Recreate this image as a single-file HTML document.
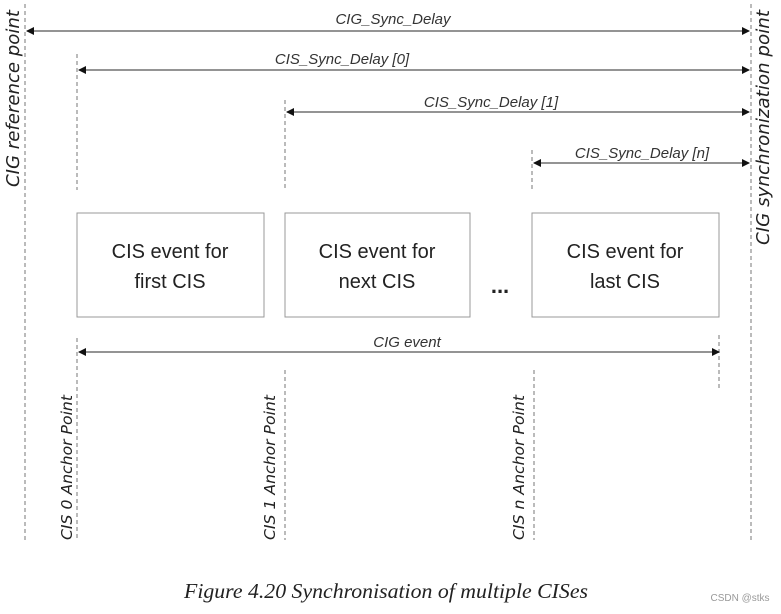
<!DOCTYPE html>
<html><head><style>
body{margin:0;background:#fff;}
</style></head><body>
<svg width="781" height="609" xmlns="http://www.w3.org/2000/svg" font-family="Liberation Sans, sans-serif">
<defs>
<marker id="a" markerWidth="8" markerHeight="8" refX="7" refY="4" orient="auto-start-reverse" markerUnits="userSpaceOnUse">
<path d="M0,0 L8,4 L0,8 z" fill="#111"/></marker>
</defs>
<g stroke="#777" stroke-width="1" stroke-dasharray="4,3" fill="none">
<line x1="25" y1="4" x2="25" y2="540"/>
<line x1="751" y1="4" x2="751" y2="540"/>
<line x1="77" y1="54" x2="77" y2="190"/>
<line x1="285" y1="100" x2="285" y2="190"/>
<line x1="532" y1="150" x2="532" y2="190"/>
<line x1="77" y1="338" x2="77" y2="540"/>
<line x1="285" y1="370" x2="285" y2="540"/>
<line x1="534" y1="370" x2="534" y2="540"/>
<line x1="719" y1="335" x2="719" y2="390"/>
</g>
<g stroke="#555" stroke-width="1.2" marker-start="url(#a)" marker-end="url(#a)">
<line x1="27" y1="31" x2="749" y2="31"/>
<line x1="79" y1="70" x2="749" y2="70"/>
<line x1="287" y1="112" x2="749" y2="112"/>
<line x1="534" y1="163" x2="749" y2="163"/>
<line x1="79" y1="352" x2="719" y2="352"/>
</g>
<g font-style="italic" font-size="15" fill="#333" text-anchor="middle">
<text x="393" y="24">CIG_Sync_Delay</text>
<text x="342" y="64">CIS_Sync_Delay [0]</text>
<text x="491" y="107">CIS_Sync_Delay [1]</text>
<text x="642" y="158">CIS_Sync_Delay [n]</text>
<text x="407" y="347">CIG event</text>
</g>
<g fill="#fff" stroke="#999">
<rect x="77" y="213" width="187" height="104"/>
<rect x="285" y="213" width="185" height="104"/>
<rect x="532" y="213" width="187" height="104"/>
</g>
<g font-size="20" fill="#222" text-anchor="middle">
<text x="170" y="258">CIS event for</text><text x="170" y="288">first CIS</text>
<text x="377" y="258">CIS event for</text><text x="377" y="288">next CIS</text>
<text x="625" y="258">CIS event for</text><text x="625" y="288">last CIS</text>
<text x="500" y="293" font-weight="bold" font-size="22">...</text>
</g>
<g font-family="DejaVu Sans, sans-serif" font-style="italic" font-size="18" fill="#222">
<text transform="translate(19,187) rotate(-90)" textLength="177" lengthAdjust="spacingAndGlyphs">CIG reference point</text>
<text transform="translate(769,245) rotate(-90)" textLength="235" lengthAdjust="spacingAndGlyphs">CIG synchronization point</text>
</g>
<g font-family="DejaVu Sans, sans-serif" font-style="italic" font-size="15.5" fill="#222">
<text transform="translate(72,540) rotate(-90)" textLength="145" lengthAdjust="spacingAndGlyphs">CIS 0 Anchor Point</text>
<text transform="translate(275,540) rotate(-90)" textLength="145" lengthAdjust="spacingAndGlyphs">CIS 1 Anchor Point</text>
<text transform="translate(524,540) rotate(-90)" textLength="145" lengthAdjust="spacingAndGlyphs">CIS n Anchor Point</text>
</g>
<text x="386" y="598" text-anchor="middle" font-family="Liberation Serif, serif" font-style="italic" font-size="21" fill="#222" textLength="404" lengthAdjust="spacingAndGlyphs">Figure 4.20  Synchronisation of multiple CISes</text>
<text x="740" y="601" text-anchor="middle" font-size="10" fill="#999">CSDN @stks</text>
</svg>
</body></html>
